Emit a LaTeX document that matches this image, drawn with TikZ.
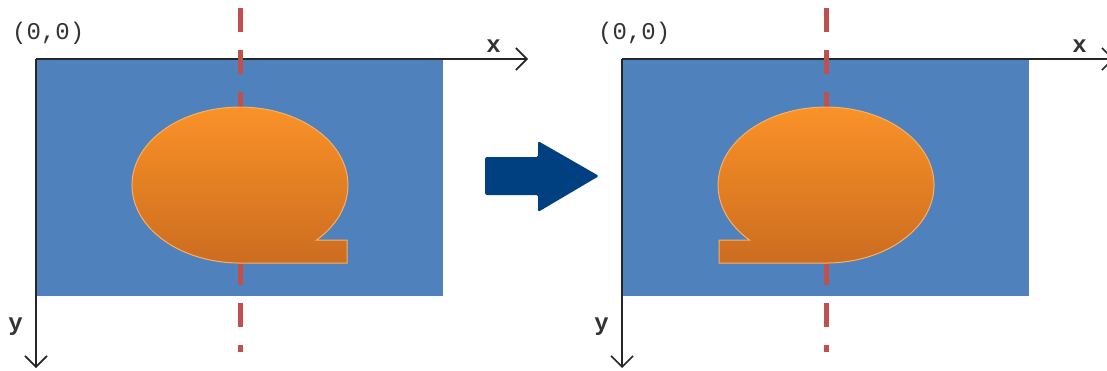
\documentclass[tikz,border=0pt]{standalone}
\usepackage{fontspec}
\newfontfamily\monofont{Liberation Mono}
\usepackage{tikz}
\usetikzlibrary{arrows.meta, positioning}

\definecolor{canvas}{RGB}{79,129,189}
\definecolor{cutline}{RGB}{192,80,77}
\definecolor{blobtop}{RGB}{252,148,40}
\definecolor{blobmid}{RGB}{240,136,38}
\definecolor{blobbot}{RGB}{204,108,32}
\definecolor{blobedge}{RGB}{250,176,98}
\definecolor{flipblue}{RGB}{0,64,128}

\begin{document}
\begin{tikzpicture}[
    x=1pt, y=-1pt,
    axis/.style = {draw=black!85, line width=1.6pt,
                   -{Straight Barb[length=11pt, width=22pt]}},
    mirror/.style = {draw=cutline, line width=5pt,
                     dash pattern=on 24pt off 18.1pt},
    lbl/.style = {font=\monofont\fontsize{24}{28}\selectfont,
                  text=black!80, inner sep=0pt},
    axlbl/.style = {lbl, font=\monofont\bfseries\fontsize{24}{28}\selectfont},
    blob/.style = {top color=blobtop, middle color=blobmid,
                   bottom color=blobbot, draw=blobedge, line width=1pt},
                            ]
    \useasboundingbox (0,0) rectangle (1107,370);
    \clip (0,0) rectangle (1107,370);
    % before / after
    \foreach \i/\ox/\m in {1/36/1, 2/622/-1} {
    \coordinate (org\i)  at (\ox,59);
    \coordinate (xend\i) at (\ox+492,59);
    \coordinate (yend\i) at (\ox,368);
    \fill[canvas] (org\i) rectangle ++(407,237);
    \draw[axis] (org\i) -- (xend\i);
    \draw[axis] (org\i) -- (yend\i);
    \node (zero\i) [lbl, above right=14pt and -24pt of org\i] {(0,0)};
    \node (xl\i)   [axlbl, above left=6pt and 27pt of xend\i]   {x};
    \node (yl\i)   [axlbl, above left=32pt and 13pt of yend\i]  {y};
    \draw[mirror] (\ox+204,8) -- (\ox+204,352);
    \begin{scope}[shift={(\ox+204,185)}, xscale=\m]
    \path[blob] (76.6,55) arc [start angle=44.8, end angle=-270,
                               x radius=108, y radius=78]
        -- (107,78) -- (107,55) -- cycle;
    \end{scope}
    }
    % flip arrow
    \fill[flipblue, rounded corners=1.5pt]
        (485,157) -- (538,157) -- (538,141) -- (599,176)
        -- (538,212) -- (538,195) -- (485,195) -- cycle;
\end{tikzpicture}
\end{document}
